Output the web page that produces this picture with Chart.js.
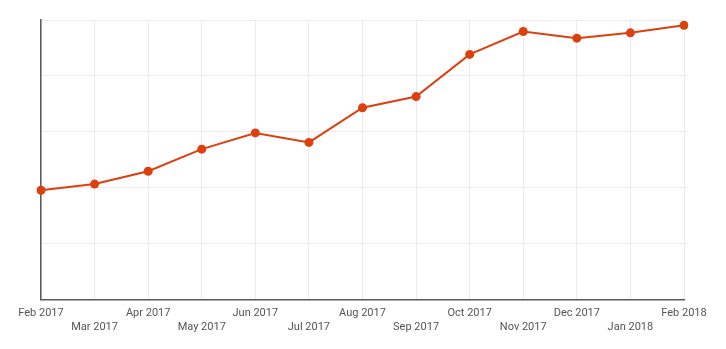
<!DOCTYPE html>
<html>
<head>
<meta charset="utf-8">
<script src="https://cdn.jsdelivr.net/npm/chart.js@4"></script>
<style>
  html, body { margin: 0; padding: 0; background: #fff; }
  #wrap { width: 726px; height: 349px; }
</style>
</head>
<body>
<div id="wrap"><canvas id="lineChart" width="726" height="349"></canvas></div>
<script>
const months = [
  'Feb 2017', 'Mar 2017', 'Apr 2017', 'May 2017', 'Jun 2017', 'Jul 2017', 'Aug 2017',
  'Sep 2017', 'Oct 2017', 'Nov 2017', 'Dec 2017', 'Jan 2018', 'Feb 2018'
];
const values = [39.1, 41.3, 45.9, 53.8, 59.6, 56.2, 68.6, 72.6, 87.7, 95.9, 93.5, 95.4, 98.1];
const yMin = 0;
const yMax = 100;
const yStep = 20;

const lineColor = '#de3f0f';

const ctx = document.getElementById('lineChart').getContext('2d');
new Chart(ctx, {
  type: 'line',
  data: {
    labels: months,
    datasets: [{
      data: values,
      borderColor: lineColor,
      backgroundColor: lineColor,
      borderWidth: 2,
      pointRadius: 4.5,
      pointHoverRadius: 4.5,
      pointBorderWidth: 0,
      tension: 0,
      fill: false
    }]
  },
  options: {
    responsive: false,
    animation: false,
    layout: { padding: { left: 41, right: 42, top: 20, bottom: 8 } },
    plugins: { legend: { display: false }, tooltip: { enabled: false } },
    scales: {
      x: {
        offset: false,
        grid: { color: '#ebebeb', drawTicks: false },
        border: { color: '#5a5a5a', width: 1.5 },
        ticks: {
          autoSkip: false,
          maxRotation: 0,
          padding: 7,
          color: '#555',
          font: { family: 'Roboto', size: 11, lineHeight: 1.25 },
          callback: function(value, index) {
            const label = months[index];
            return index % 2 === 0 ? [label, ''] : ['', label];
          }
        }
      },
      y: {
        min: yMin,
        max: yMax,
        ticks: { stepSize: yStep, display: false },
        grid: { color: '#ebebeb', drawTicks: false },
        border: { color: '#5a5a5a', width: 1.5 }
      }
    }
  }
});
</script>
</body>
</html>
